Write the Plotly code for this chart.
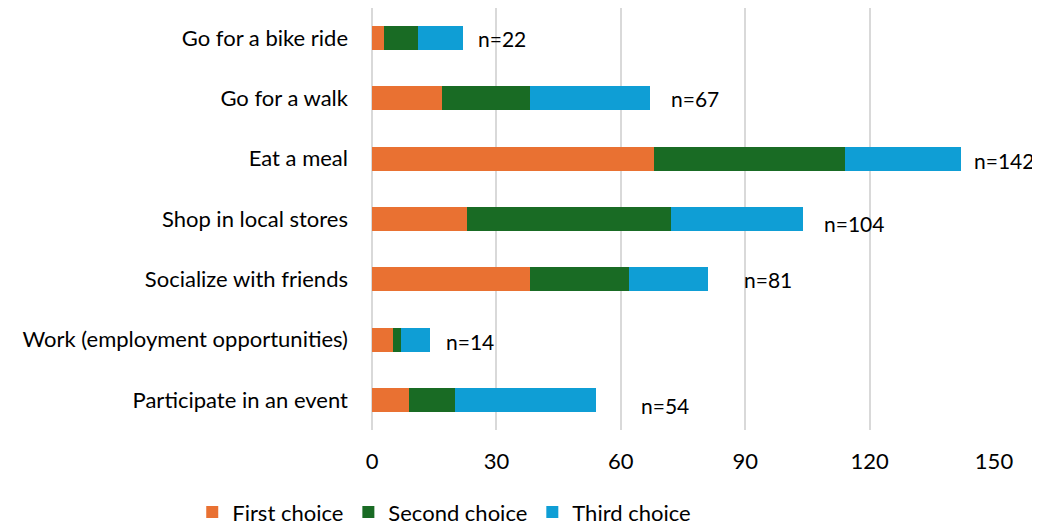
import plotly.graph_objects as go

categories = ["Go for a bike ride", "Go for a walk", "Eat a meal", "Shop in local stores",
              "Socialize with friends", "Work (employment opportunities)", "Participate in an event"]
first_choice = [3, 17, 68, 23, 38, 5, 9]
second_choice = [8, 21, 46, 49, 24, 2, 11]
third_choice = [11, 29, 28, 32, 19, 7, 34]
n_labels = ["n=22", "n=67", "n=142", "n=104", "n=81", "n=14", "n=54"]
# where the n= labels sit on the value axis, and their small vertical nudges (px)
label_x = [25.0, 71.6, 144.6, 108.6, 89.2, 17.3, 64.3]
label_dy = [0, 0, -2, -4, 0, -2, -6]

FONT = "Lato"
FS = 22
colors = ["#E97132", "#196B24", "#0F9ED5"]

fig = go.Figure()
for name, vals, col in zip(["First choice", "Second choice", "Third choice"],
                           [first_choice, second_choice, third_choice], colors):
    fig.add_trace(go.Bar(
        y=categories, x=vals, name=name, orientation="h",
        marker=dict(color=col, line=dict(width=0)), width=0.4,
    ))

for cat, txt, lx, dy in zip(categories, n_labels, label_x, label_dy):
    fig.add_annotation(x=lx, y=cat, text=txt, showarrow=False, xanchor="left",
                       yshift=dy, font=dict(family=FONT, size=21, color="#000000"))

# page body adds 8px margin, so the figure is sized to fit the window
fig.update_layout(
    barmode="stack",
    width=1032, height=519,
    margin=dict(l=364, r=46, t=0, b=97, autoexpand=False),
    paper_bgcolor="white", plot_bgcolor="white",
    font=dict(family=FONT, size=FS, color="#000000"),
    legend=dict(orientation="h", x=-0.289, y=-0.145, xanchor="left", yanchor="top",
                font=dict(size=FS), traceorder="normal"),
    xaxis=dict(range=[0, 150], tickvals=[0, 30, 60, 90, 120, 150], showgrid=True,
               gridcolor="#D9D9D9", gridwidth=2, zeroline=True, zerolinecolor="#D9D9D9",
               zerolinewidth=2, showline=False, ticklabelstandoff=16, automargin=False),
    yaxis=dict(categoryorder="array", categoryarray=categories[::-1], showgrid=False,
               showline=False, ticklabelstandoff=23, automargin=False),
)

fig.write_html("out.html")
